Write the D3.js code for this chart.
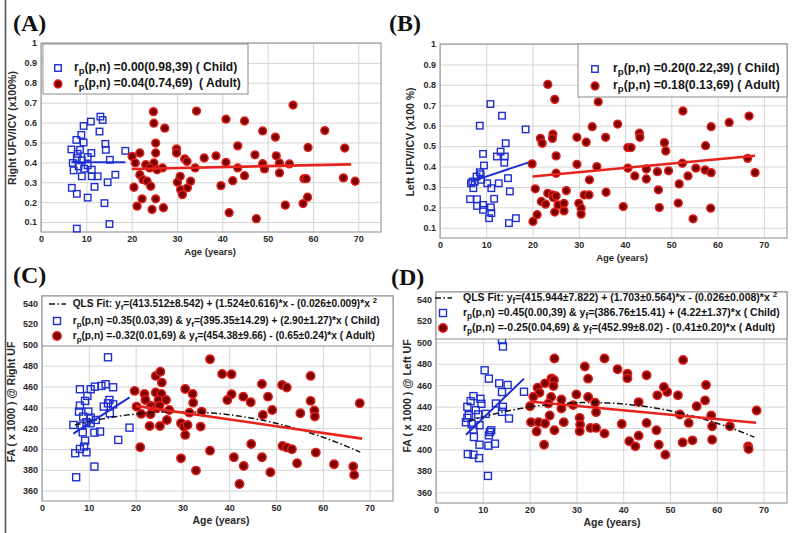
<!DOCTYPE html>
<html><head><meta charset="utf-8">
<script src="https://cdn.jsdelivr.net/npm/d3@7/dist/d3.min.js"></script>
<style>body{margin:0;background:#fff}svg{display:block}text{font-family:"Liberation Sans",Arial,sans-serif}</style>
</head><body>
<svg id="c" width="800" height="533"></svg>
<script>
// ---------- DATA ----------
const xTicks = [0,10,20,30,40,50,60,70];
const ratioTicks = [0.1,0.2,0.3,0.4,0.5,0.6,0.7,0.8,0.9,1];
const faTicks = [360,380,400,420,440,460,480,500,520,540];

const aChild = [[13.1,0.63],[13.6,0.613],[11.0,0.605],[9.4,0.583],[8.9,0.538],[7.8,0.513],[6.7,0.465],[12.9,0.555],[14.2,0.493],[14.3,0.463],[8.6,0.463],[9.4,0.50],[8.1,0.443],[11.1,0.447],[10.3,0.427],[7.9,0.422],[9.0,0.41],[7.0,0.397],[10.3,0.385],[15.2,0.413],[18.6,0.458],[7.2,0.36],[9.5,0.368],[11.2,0.363],[9.0,0.33],[11.2,0.33],[12.5,0.33],[16.4,0.338],[6.8,0.272],[7.9,0.242],[11.8,0.277],[14.7,0.30],[10.3,0.223],[14.0,0.195],[7.9,0.067],[15.1,0.09],[8.3,0.38]];
const aAdult = [[20.1,0.43],[20.8,0.397],[21.8,0.447],[20.5,0.275],[21.2,0.18],[22.3,0.217],[21.8,0.338],[22.5,0.313],[23.1,0.388],[23.4,0.305],[24.2,0.28],[24.5,0.163],[24.8,0.655],[24.9,0.597],[25.3,0.497],[25.3,0.447],[25.3,0.217],[24.9,0.397],[26.8,0.372],[27.3,0.572],[27.0,0.172],[29.9,0.468],[29.9,0.447],[30.1,0.30],[30.7,0.33],[30.8,0.263],[31.2,0.238],[31.7,0.418],[32.2,0.405],[32.3,0.272],[33.0,0.305],[34.0,0.372],[34.3,0.658],[36.0,0.422],[38.6,0.433],[39.7,0.283],[40.8,0.617],[40.8,0.40],[41.5,0.147],[42.3,0.308],[43.4,0.483],[43.4,0.372],[44.9,0.608],[44.9,0.333],[47.2,0.438],[47.5,0.117],[48.9,0.558],[48.9,0.393],[49.3,0.367],[51.7,0.527],[51.9,0.433],[52.6,0.347],[52.6,0.397],[53.9,0.185],[54.8,0.392],[55.6,0.688],[57.8,0.193],[58.0,0.318],[58.5,0.318],[58.8,0.225],[58.9,0.475],[62.6,0.56],[66.7,0.322],[67.0,0.472],[69.3,0.305],[25.6,0.363],[24.0,0.372]];

const bChild = [[10.9,0.706],[13.4,0.649],[8.6,0.60],[18.5,0.582],[14.2,0.514],[9.3,0.462],[13.1,0.473],[12.3,0.449],[14.0,0.449],[13.9,0.419],[9.5,0.405],[8.6,0.372],[7.9,0.351],[7.5,0.326],[8.9,0.335],[6.7,0.318],[7.2,0.294],[10.2,0.318],[11.1,0.294],[12.7,0.318],[14.7,0.343],[15.1,0.278],[6.5,0.24],[8.0,0.24],[8.0,0.207],[11.7,0.242],[9.3,0.212],[9.3,0.188],[11.0,0.20],[11.1,0.172],[10.6,0.147],[14.9,0.123],[16.4,0.147],[7.0,0.326],[8.8,0.362]];
const bAdult = [[23.3,0.802],[24.8,0.729],[34.2,0.717],[32.9,0.595],[38.4,0.608],[52.5,0.672],[62.5,0.616],[66.8,0.647],[58.6,0.595],[57.4,0.502],[48.5,0.517],[48.8,0.476],[43.1,0.563],[43.2,0.543],[40.6,0.493],[41.3,0.493],[35.8,0.543],[31.6,0.519],[29.6,0.543],[24.4,0.558],[24.3,0.538],[21.7,0.538],[22.1,0.514],[25.1,0.452],[19.9,0.413],[25.1,0.367],[29.6,0.411],[33.9,0.40],[32.3,0.335],[40.6,0.392],[42.1,0.354],[44.6,0.388],[44.6,0.339],[47.0,0.375],[49.4,0.379],[52.4,0.416],[53.6,0.354],[55.3,0.392],[57.3,0.383],[58.6,0.37],[51.7,0.315],[66.5,0.44],[68.1,0.37],[20.6,0.291],[21.9,0.229],[22.8,0.216],[23.3,0.269],[24.3,0.261],[24.5,0.248],[25.1,0.256],[24.8,0.177],[25.5,0.212],[26.8,0.22],[26.8,0.183],[27.3,0.282],[30.0,0.22],[30.5,0.196],[30.5,0.167],[31.2,0.261],[32.2,0.261],[35.9,0.274],[39.6,0.204],[47.2,0.286],[47.4,0.199],[51.5,0.221],[58.5,0.196],[54.7,0.144],[20.1,0.131],[21.0,0.164]];

const cChild = [[14.1,488.1],[8.1,457.4],[10.4,457.4],[11.3,459.9],[12.7,460.6],[13.6,462.2],[15.2,459.3],[9.7,451],[9.2,446.2],[14.4,447.1],[8.1,441.7],[7.9,435.9],[13.2,440.7],[14.1,443.9],[15.2,442.9],[14.5,434.3],[8.8,431.1],[10.4,430.1],[11.5,427.9],[9.5,425.7],[6.7,423.1],[8.5,422.4],[10.4,424.7],[8.7,416],[11.2,415.7],[12.4,416.7],[9.2,408],[9.0,402.3],[8.1,400],[7.1,395.9],[9.5,396.8],[16.3,408.7],[18.7,420.5],[11.2,383.1],[7.3,372.8],[9.9,435.9]];
const cAdult = [[35.9,486.2],[40.5,471.8],[38.5,472.1],[24.3,470.2],[25.3,474.3],[25.6,463.8],[19.8,455.8],[21.9,452.9],[24.3,454.2],[25.5,452.9],[30.6,457.7],[32.2,452.9],[24.9,447.1],[26.5,447.1],[22.1,447.1],[32.3,444.5],[40.5,452.6],[39.6,447.1],[43.0,450.3],[44.6,444.9],[47.0,462.5],[48.3,450.3],[49.2,437.5],[47.2,432.7],[51.3,461.5],[52.3,459],[57.4,470.2],[57.4,446.2],[58.2,436.9],[58.3,431.1],[55.2,434.3],[67.9,443.9],[20.2,440.7],[23.3,441.3],[24.5,439.1],[25.1,441.7],[27.2,437.5],[23.2,433.3],[21.2,433.7],[25.2,422.1],[23.0,422.1],[26.7,427.9],[29.7,424.7],[30.3,421.5],[31.1,423.1],[30.6,413.5],[31.5,434.9],[33.9,421.5],[34.1,435.9],[29.7,391],[32.9,379.2],[35.9,398.4],[21.0,401.6],[41.0,392],[43.1,383.7],[42.2,366.4],[44.7,404.8],[47.0,392],[48.8,377.6],[51.4,402.9],[52.3,401.3],[53.4,399.7],[54.5,386.3],[58.5,396.5],[62.4,385.3],[66.5,383.1],[66.7,375.1]];

const dChild = [[14.1,502.1],[14.3,496.2],[10.4,473.9],[11.3,466.1],[13.5,461.7],[15.3,460.2],[14.1,453.6],[18.8,453.9],[8.0,449.8],[9.5,447.3],[9.7,442.6],[12.8,442.9],[14.3,439.8],[14.1,435.1],[15.6,428.9],[6.7,439.8],[7.0,432],[8.5,436.7],[9.0,432.6],[10.6,433.2],[6.7,429.5],[6.4,425.4],[7.6,423.8],[8.0,418.6],[9.3,422.6],[11.5,416.3],[11.8,417.9],[11.3,413.2],[8.1,411.6],[9.3,404.4],[11.2,403.5],[12.6,405.4],[6.8,395.7],[8.0,395.1],[9.2,391.9],[11.1,375.3],[7.4,445.1]];
const dAdult = [[25.3,484.9],[36.0,484.9],[52.8,483.6],[31.8,477.5],[38.8,474.9],[40.9,470.8],[40.9,466.4],[32.5,466.1],[45.0,469.3],[57.7,460.2],[24.7,466.4],[25.2,464.8],[23.3,461.7],[21.7,457.7],[22.1,453],[20.8,449.2],[25.1,459.2],[24.6,448.9],[26.8,446.7],[30.0,451.4],[32.5,448.9],[24.0,442.9],[26.8,438.2],[20.1,440.4],[29.3,441.4],[34.0,443.6],[34.2,434.8],[43.3,444.2],[47.3,450.5],[51.7,450.5],[49.4,453.6],[48.7,458.3],[57.5,445.8],[55.7,440.4],[58.8,431.7],[59.0,421.7],[59.0,409.1],[68.5,436.4],[52.1,432.6],[54.0,424.8],[20.3,425.5],[21.5,416.8],[21.9,425.5],[23.3,424.2],[24.3,431.7],[25.3,417.9],[27.3,425.5],[30.7,429.5],[30.8,423.2],[30.7,416.9],[33.0,420.1],[34.2,420.1],[36.0,414.8],[39.7,423.8],[41.3,407.6],[42.6,402.9],[43.3,412.9],[45.0,424.8],[47.1,417.9],[47.6,404.4],[49.0,395.1],[52.7,406.6],[54.8,408.5],[23.1,404.4],[62.8,421.7],[66.7,402.9],[66.8,400.4]];

// linear fits: [intercept, slope, xStart, xEnd]
const aChildFit = [0.40, 0.0, 6.7, 18.6];
const aAdultFit = [0.3575, 0.000475, 20, 68.4];
const bChildFit = [0.2753, 0.00756, 6.7, 19.0];
const bAdultFit = [0.3086, 0.00212, 20, 68.1];
const cChildFit = [395.35, 2.90, 6.7, 18.7];
const cAdultFit = [454.38, -0.65, 20, 68.4];
const dChildFit = [386.76, 4.22, 6.4, 18.8];
const dAdultFit = [452.99, -0.41, 20, 68.4];
// quadratic fits: [b0, b1, b2, xStart, xEnd]
const cQls = [413.512, 1.524, -0.026, 7, 68.4];
const dQls = [415.944, 1.703, -0.026, 7, 68.4];

const aLegend = ["r_{p}(p,n) =0.00(0.98,39) ( Child)", "r_{p}(p,n) =0.04(0.74,69)  ( Adult)"];
const bLegend = ["r_{p}(p,n) =0.20(0.22,39) ( Child)", "r_{p}(p,n) =0.18(0.13,69) ( Adult)"];
const cLegend = ["QLS Fit: y_{f}=(413.512±8.542) + (1.524±0.616)*x - (0.026±0.009)*x ^{2}",
                 "r_{p}(p,n) =0.35(0.03,39) & y_{f}=(395.35±14.29) + (2.90±1.27)*x ( Child)",
                 "r_{p}(p,n) =-0.32(0.01,69) & y_{f}=(454.38±9.66) - (0.65±0.24)*x ( Adult)"];
const dLegend = ["QLS Fit: y_{f}=(415.944±7.822) + (1.703±0.564)*x - (0.026±0.008)*x ^{2}",
                 "r_{p}(p,n) =0.45(0.00,39) & y_{f}=(386.76±15.41) + (4.22±1.37)*x ( Child)",
                 "r_{p}(p,n) =-0.25(0.04,69) & y_{f}=(452.99±8.02) - (0.41±0.20)*x ( Adult)"];

// ---------- DRAW ----------
const svg = d3.select("#c");
svg.append("rect").attr("width",800).attr("height",533).attr("fill","#fff");
svg.append("line").attr("x1",5.5).attr("x2",5.5).attr("y1",0).attr("y2",533).attr("stroke","#555").attr("stroke-width",1.6);

const BLUE = "#1f2fcf", RED = "#e8231e";

function rich(t, str){
  const parts = str.split(/(_\{[^}]*\}|\^\{[^}]*\})/).filter(s=>s.length);
  let shift = 0;
  parts.forEach(s=>{
    if (s.startsWith("_{")) { t.append("tspan").attr("dy",2.5+shift).attr("font-size","0.78em").text(s.slice(2,-1)); shift=-2.5; }
    else if (s.startsWith("^{")) { t.append("tspan").attr("dy",-4+shift).attr("font-size","0.75em").text(s.slice(2,-1)); shift=4; }
    else { t.append("tspan").attr("dy",shift).text(s); shift=0; }
  });
}

function drawPanel(p){
  const g = svg.append("g");
  const x = d3.scaleLinear().domain([0,75]).range([p.L,p.R]);
  const y = d3.scaleLinear().domain(p.yDom).range([p.B,p.T]);

  const xa = g.append("g").attr("transform",`translate(0,${p.B})`)
    .call(d3.axisBottom(x).tickValues(xTicks).tickSize(-(p.B-p.T)).tickPadding(3.5));
  const ya = g.append("g").attr("transform",`translate(${p.L},0)`)
    .call(d3.axisLeft(y).tickValues(p.yTicks).tickSize(-(p.R-p.L)).tickPadding(4).tickFormat(p.fmt));
  [xa,ya].forEach(a=>{
    a.select(".domain").remove();
    a.selectAll("line").attr("stroke","#d6d6d6");
    a.selectAll("text").attr("fill","#2a2a2a").attr("font-weight","bold").attr("font-size",p.tickFs)
      .attr("font-family","'Liberation Sans',Arial,sans-serif");
  });
  g.append("rect").attr("x",p.L).attr("y",p.T).attr("width",p.R-p.L).attr("height",p.B-p.T)
    .attr("fill","none").attr("stroke","#8c8c8c").attr("stroke-width",1);

  // axis titles
  g.append("text").attr("x",p.xlab[0]).attr("y",p.xlab[1]).attr("text-anchor","middle")
    .attr("font-weight","bold").attr("font-size",p.labFs).attr("fill","#2a2a2a").text("Age (years)");
  g.append("text").attr("transform",`translate(${p.ylab[0]},${p.ylab[1]}) rotate(-90)`).attr("text-anchor","middle")
    .attr("font-weight","bold").attr("font-size",p.ylabFs).attr("fill","#2a2a2a").text(p.ylabel);
  g.append("text").attr("x",p.tag[0]).attr("y",p.tag[1])
    .style("font-family","'Liberation Serif','Times New Roman',serif")
    .attr("font-weight","bold").attr("font-size",24).attr("fill","#111").text(p.tagText);

  // markers
  const S = p.sq;
  g.append("g").selectAll("rect").data(p.child).join("rect")
    .attr("x",d=>x(d[0])-S/2).attr("y",d=>y(d[1])-S/2).attr("width",S).attr("height",S)
    .attr("fill","none").attr("stroke",BLUE).attr("stroke-width",1.4);
  g.append("g").selectAll("circle").data(p.adult).join("circle")
    .attr("cx",d=>x(d[0])).attr("cy",d=>y(d[1])).attr("r",p.r)
    .attr("fill","#7d0000").attr("stroke","#e0201c").attr("stroke-width",1.5);

  // fits
  const line = d3.line().x(d=>x(d[0])).y(d=>y(d[1]));
  if (p.qls){
    const q = p.qls, pts = d3.range(q[3], q[4]+0.01, 0.5).map(v=>[v, q[0]+q[1]*v+q[2]*v*v]);
    g.append("path").attr("d",line(pts)).attr("fill","none").attr("stroke","#111")
      .attr("stroke-width",1.5).attr("stroke-dasharray","6,2.5,1.5,2.5");
  }
  const lin = f=>[[f[2], f[0]+f[1]*f[2]],[f[3], f[0]+f[1]*f[3]]];
  g.append("path").attr("d",line(lin(p.cFit))).attr("stroke",BLUE).attr("stroke-width",2).attr("fill","none");
  g.append("path").attr("d",line(lin(p.aFit))).attr("stroke",RED).attr("stroke-width",2.6).attr("fill","none");

  // legend
  const lg = p.leg;
  g.append("rect").attr("x",lg.box[0]).attr("y",lg.box[1]).attr("width",lg.box[2]-lg.box[0]).attr("height",lg.box[3]-lg.box[1])
    .attr("fill","#fff").attr("stroke","#8c8c8c");
  const texts = lg.lines.map((s,i)=>{
    const t = g.append("text").attr("x",lg.tx).attr("y",lg.ys[i]+3.2).attr("font-weight","bold")
      .attr("font-size",10).attr("fill","#141414").style("white-space","pre");
    rich(t, s); return t;
  });
  const maxW = d3.max(texts, t=>t.node().getBBox().width);
  const fs = 10*lg.w/maxW;
  texts.forEach(t=>t.attr("font-size",fs));
  let row = 0;
  if (p.qls){
    g.append("line").attr("x1",lg.mx-8).attr("x2",lg.mx+9).attr("y1",lg.ys[0]).attr("y2",lg.ys[0])
      .attr("stroke","#111").attr("stroke-width",1.5).attr("stroke-dasharray","6,2.5,1.5,2.5");
    row = 1;
  }
  g.append("rect").attr("x",lg.mx-S/2).attr("y",lg.ys[row]-S/2).attr("width",S).attr("height",S)
    .attr("fill","none").attr("stroke",BLUE).attr("stroke-width",1.4);
  g.append("circle").attr("cx",lg.mx).attr("cy",lg.ys[row+1]).attr("r",p.r)
    .attr("fill","#7d0000").attr("stroke","#e0201c").attr("stroke-width",1.5);
}

const f1 = d=> d===1 ? "1" : d.toFixed(1);
const f0 = d=> String(d);

drawPanel({L:41,R:381,T:43,B:232,yDom:[0.05,1],yTicks:ratioTicks,fmt:f1,tickFs:9,labFs:9.5,ylabFs:10.5,
  xlab:[210,254.5],ylab:[16,128],ylabel:"Right UFV/ICV (x100%)",tag:[13,31],tagText:"(A)",
  child:aChild,adult:aAdult,cFit:aChildFit,aFit:aAdultFit,sq:6.5,r:3.9,
  leg:{box:[43,44,248,94],mx:58,tx:74,ys:[68,84],w:167,lines:aLegend}});
drawPanel({L:440,R:787,T:44,B:238,yDom:[0.05,1],yTicks:ratioTicks,fmt:f1,tickFs:9,labFs:9.5,ylabFs:10.5,
  xlab:[622,260.5],ylab:[414,142],ylabel:"Left UFV/ICV (x100 %)",tag:[389,31],tagText:"(B)",
  child:bChild,adult:bAdult,cFit:bChildFit,aFit:bAdultFit,sq:6.5,r:3.9,
  leg:{box:[578,44,787,97],mx:595,tx:613,ys:[69,86],w:167,lines:bLegend}});
drawPanel({L:42,R:393,T:296,B:501,yDom:[350,547],yTicks:faTicks,fmt:f0,tickFs:9,labFs:10.5,ylabFs:10.5,
  xlab:[221,524],ylab:[15,402],ylabel:"FA ( x 1000 ) @ Right UF",tag:[13,283],tagText:"(C)",
  child:cChild,adult:cAdult,cFit:cChildFit,aFit:cAdultFit,qls:cQls,sq:7,r:4.2,
  leg:{box:[42,296,393,346],mx:57,tx:72.7,ys:[304,321,336],w:307,lines:cLegend}});
drawPanel({L:436,R:787,T:292,B:503,yDom:[350,547],yTicks:faTicks,fmt:f0,tickFs:9,labFs:10.5,ylabFs:10.5,
  xlab:[612,526],ylab:[411,396],ylabel:"FA ( x 1000 ) @ Left UF",tag:[391,285],tagText:"(D)",
  child:dChild,adult:dAdult,cFit:dChildFit,aFit:dAdultFit,qls:dQls,sq:7,r:4.2,
  leg:{box:[436,292,787,339],mx:443,tx:463,ys:[298,313,328],w:317,lines:dLegend}});
</script>
</body></html>
